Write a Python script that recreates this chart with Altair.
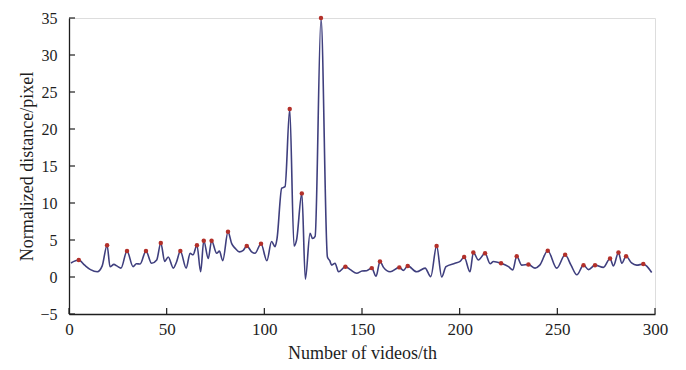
import altair as alt
import pandas as pd

# Line vertices (number of videos, normalized distance)
line_x = [1, 5, 8, 11, 14.5, 17, 19.5, 21, 23, 24.5, 26.6, 29.7, 32.8, 34.5, 36.4, 39.4,
          42.3, 44.9, 47, 49, 50.8, 53.4, 55, 57, 60, 62, 63.5, 65.5, 67.4, 69, 71.3, 73,
          75.6, 77, 78.7, 81.4, 83.3, 85, 87.2, 89.2, 91, 93.5, 95.2, 98.3, 101.3, 103.7,
          105.5, 106.5, 108.9, 110.6, 113, 115.2, 116.5, 119.2, 121, 123.4, 124.7, 126, 129,
          132.3, 133.5, 134.5, 136.2, 138, 141.5, 144, 147.3, 150, 152.4, 155, 157.2, 159.2,
          161, 164.4, 169.1, 171.2, 173.4, 178, 182.3, 185.2, 188.2, 190.8, 193, 197.6,
          200.2, 202.3, 205.3, 207, 209.6, 213, 215.6, 217.3, 221.2, 225, 227.2, 229.2,
          231.8, 235.2, 238.6, 241, 245.1, 249.7, 254, 257, 260, 263.4, 266, 269.3, 273.6,
          277, 278.7, 281.3, 283, 285.2, 288, 290.6, 294, 296, 298.3]
line_y = [1.9, 2.3, 1.6, 1.0, 0.7, 1.5, 4.3, 1.4, 1.7, 1.5, 1.2, 3.5, 1.4, 1.8, 1.75, 3.5,
          1.85, 2.3, 4.6, 2.1, 2.7, 1.2, 2.0, 3.5, 1.2, 3.2, 3.0, 4.3, 0.7, 4.9, 2.5, 4.9,
          3.2, 3.5, 2.2, 6.1, 4.5, 3.9, 3.4, 3.6, 4.2, 3.4, 3.2, 4.5, 2.2, 4.8,
          4.1, 5.2, 12.0, 12.2, 22.7, 4.2, 5.0, 11.3, -0.3, 5.9, 5.2, 5.5, 35.0,
          2.7, 2.2, 1.6, 1.85, 0.7, 1.4, 1.0, 0.5, 0.8, 0.85, 1.2, 0.1, 2.1,
          1.3, 0.7, 1.3, 0.9, 1.5, 0.7, 1.2, 0.05, 4.2, 0.0, 1.4, 1.85,
          2.1, 2.7, 0.7, 3.3, 2.3, 3.2, 1.8, 2.1, 1.85, 1.4, 0.95, 2.8,
          1.6, 1.7, 1.2, 1.6, 3.55, 1.2, 3.0, 1.6, 0.3, 1.6, 1.0, 1.6, 1.3,
          2.5, 1.5, 3.3, 1.85, 2.8, 1.9, 1.6, 1.75, 1.4, 0.6]

# Marked peaks
peak_x = [5, 19.5, 29.7, 39.4, 47, 57, 65.5, 69, 73, 81.4, 91, 98.3, 113, 119.2, 129,
          141.5, 155, 159.2, 169.1, 173.4, 188.2, 202.3, 207, 213, 221.2, 229.2, 235.2,
          245.1, 254, 263.4, 269.3, 277, 281.3, 285.2, 294]
peak_y = [2.3, 4.3, 3.5, 3.5, 4.6, 3.5, 4.3, 4.9, 4.9, 6.1, 4.2, 4.5, 22.7, 11.3, 35.0,
          1.4, 1.2, 2.1, 1.3, 1.5, 4.2, 2.7, 3.3, 3.2, 1.85, 2.8, 1.7,
          3.55, 3.0, 1.6, 1.6, 2.5, 3.3, 2.8, 1.75]

x_ticks = [0, 50, 100, 150, 200, 250, 300]
y_ticks = [-5, 0, 5, 10, 15, 20, 25, 30, 35]

W, H = 586, 296
FONT = "Liberation Serif"
INK = "#1e1e1e"

line_df = pd.DataFrame({"x": line_x, "y": line_y})
peak_df = pd.DataFrame({"x": peak_x, "y": peak_y})
xt_df = pd.DataFrame({"x": x_ticks})
yt_df = pd.DataFrame({"y": y_ticks})

xs = alt.Scale(domain=[0, 300], nice=False, zero=False)
ys = alt.Scale(domain=[-5, 35], nice=False, zero=False)

xaxis = alt.Axis(values=x_ticks, ticks=False, grid=False, domainColor=INK, domainWidth=1.3,
                 labelFont=FONT, labelFontSize=17, labelColor=INK, labelPadding=7,
                 titleFont=FONT, titleFontSize=18, titleFontWeight="normal", titleColor=INK,
                 titlePadding=7, labelFlush=False)
yaxis = alt.Axis(values=y_ticks, ticks=False, grid=False, domainColor=INK, domainWidth=1.3,
                 labelFont=FONT, labelFontSize=16, labelColor=INK, labelPadding=12,
                 titleFont=FONT, titleFontSize=18, titleFontWeight="normal", titleColor=INK,
                 titlePadding=3, labelFlush=False)

xenc = alt.X("x:Q", scale=xs, axis=xaxis, title="Number of videos/th")
yenc = alt.Y("y:Q", scale=ys, axis=yaxis, title="Normalized distance/pixel")

line = alt.Chart(line_df).mark_line(color="#3f3f7e", strokeWidth=1.6,
                                    interpolate="monotone").encode(x=xenc, y=yenc)
pts = alt.Chart(peak_df).mark_point(filled=True, color="#b3302a", size=20, opacity=1).encode(x=xenc, y=yenc)
xt = alt.Chart(xt_df).mark_rule(color=INK, strokeWidth=1.2).encode(
    x=xenc, y=alt.value(H), y2=alt.value(H - 6))
yt = alt.Chart(yt_df).mark_rule(color=INK, strokeWidth=1.2).encode(
    y=yenc, x=alt.value(0), x2=alt.value(6))

chart = alt.layer(line, pts, xt, yt).properties(
    width=W, height=H,
    autosize=alt.AutoSizeParams(type="none"),
    padding={"left": 61, "top": 10, "right": 23, "bottom": 52},
).configure_view(stroke=None).configure(background="white")

chart.save("out.html", embed_options={"renderer": "svg", "actions": False})
